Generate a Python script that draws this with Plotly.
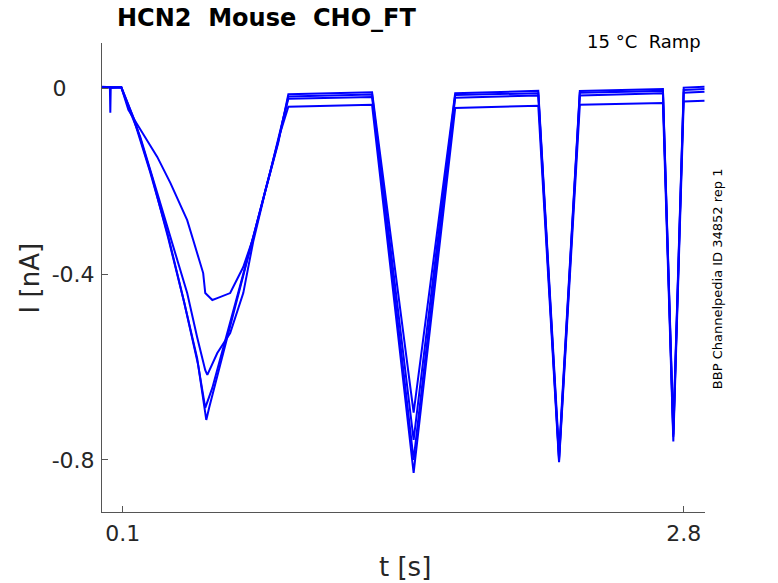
import plotly.graph_objects as go

# ---- data ----
# time [s] and current [nA] keypoints for the four sweeps
t_a = [0.0, 0.093, 0.127, 0.208, 0.266, 0.329, 0.410, 0.439, 0.487, 0.497, 0.531, 0.555,
       0.617, 0.680, 0.728, 0.786, 0.848, 0.897, 1.3, 1.5, 1.7, 2.1, 2.2, 2.3, 2.7, 2.75, 2.8, 2.9]
i_a = [0.002, 0.002, -0.047, -0.105, -0.148, -0.204, -0.284, -0.327, -0.398, -0.441, -0.456, -0.452,
       -0.441, -0.385, -0.322, -0.222, -0.118, -0.013, -0.009, -0.698, -0.011, -0.006, -0.785,
       -0.006, -0.002, -0.735, 0.001, 0.003]

t_b = [0.0, 0.093, 0.136, 0.184, 0.266, 0.343, 0.410, 0.458, 0.497, 0.507, 0.555, 0.617,
       0.680, 0.728, 0.786, 0.848, 0.897, 1.3, 1.5, 1.7, 2.1, 2.2, 2.3, 2.7, 2.75, 2.8, 2.9]
i_b = [0.003, 0.001, -0.051, -0.105, -0.226, -0.342, -0.441, -0.536, -0.607, -0.617, -0.570, -0.527,
       -0.441, -0.330, -0.222, -0.115, -0.018, -0.014, -0.757, -0.015, -0.011, -0.795,
       -0.010, -0.006, -0.745, -0.004, -0.002]

t_c = [0.0, 0.093, 0.160, 0.242, 0.319, 0.396, 0.463, 0.497, 0.531, 0.593, 0.665, 0.737,
       0.810, 0.867, 0.897, 1.3, 1.5, 1.7, 2.1, 2.2, 2.3, 2.7, 2.75, 2.8, 2.9]
i_c = [0.001, 0.002, -0.073, -0.193, -0.323, -0.462, -0.596, -0.688, -0.645, -0.545, -0.425, -0.305,
       -0.180, -0.075, -0.023, -0.019, -0.800, -0.021, -0.016, -0.800, -0.016, -0.011, -0.750,
       -0.010, -0.008]

t_d = [0.0, 0.038, 0.040, 0.042, 0.093, 0.151, 0.232, 0.314, 0.391, 0.458, 0.502, 0.516,
       0.569, 0.641, 0.713, 0.786, 0.858, 0.897, 1.3, 1.5, 1.7, 2.1, 2.2, 2.3, 2.7, 2.75, 2.8, 2.9]
i_d = [0.002, 0.002, -0.053, 0.000, 0.002, -0.064, -0.181, -0.310, -0.452, -0.581, -0.714, -0.687,
       -0.595, -0.471, -0.346, -0.220, -0.096, -0.040, -0.036, -0.828, -0.043, -0.038, -0.805,
       -0.036, -0.032, -0.760, -0.029, -0.027]

x_tick_vals = [0.1, 2.8]
x_tick_text = ["0.1", "2.8"]
y_tick_vals = [-0.8, -0.4, 0]
y_tick_text = ["-0.8", "-0.4", "0\u00a0\u00a0\u00a0\u00a0"]

title_text = "<b>HCN2\u00a0 Mouse\u00a0 CHO_FT</b>"
cond_text = "15 \u00b0C\u00a0 Ramp"
id_text = "BBP Channelpedia ID 34852 rep 1"

# ---- figure ----
FONT = "DejaVu Sans"
fig = go.Figure()
for tt, ii in [(t_a, i_a), (t_b, i_b), (t_c, i_c), (t_d, i_d)]:
    fig.add_trace(go.Scatter(x=tt, y=ii, mode="lines",
                             line=dict(color="#0000ff", width=2),
                             showlegend=False, hoverinfo="skip"))

axis_common = dict(showline=True, linecolor="#555555", linewidth=1, mirror=False,
                   showgrid=False, zeroline=False, ticks="inside", ticklen=6,
                   tickcolor="#555555", tickwidth=1,
                   tickfont=dict(family=FONT, size=22, color="#262626"))

fig.update_layout(
    width=778, height=583,
    margin=dict(l=101.7, r=73, t=43, b=71.3),
    paper_bgcolor="white", plot_bgcolor="white",
    font=dict(family=FONT, color="#262626"),
    xaxis=dict(range=[0.0, 2.9025], tickvals=x_tick_vals, ticktext=x_tick_text,
               ticklabelstandoff=2, **axis_common),
    yaxis=dict(range=[-0.912, 0.097], tickvals=y_tick_vals, ticktext=y_tick_text,
               ticklabelstandoff=2, **axis_common),
)

ann = [
    dict(text=title_text, x=0.022, y=1.053, xanchor="left", yanchor="middle",
         font=dict(size=24, color="black", family=FONT)),
    dict(text=cond_text, x=0.9967, y=1.004, xanchor="right", yanchor="middle",
         font=dict(size=18, color="black", family=FONT)),
    dict(text=id_text, x=1.0199, y=0.4986, xanchor="center", yanchor="middle",
         textangle=-90, font=dict(size=13, color="black", family=FONT)),
    dict(text="t [s]", x=0.503, y=-0.118, xanchor="center", yanchor="middle",
         font=dict(size=26, color="#262626", family=FONT)),
    dict(text="I [nA]", x=-0.119, y=0.4986, xanchor="center", yanchor="middle",
         textangle=-90, font=dict(size=26, color="#262626", family=FONT)),
]
for a in ann:
    fig.add_annotation(xref="paper", yref="paper", showarrow=False, **a)

fig.write_html("out.html",
               config={"displayModeBar": False},
               post_script="document.body.style.margin='0px';"
                           "document.body.style.overflow='hidden';")
